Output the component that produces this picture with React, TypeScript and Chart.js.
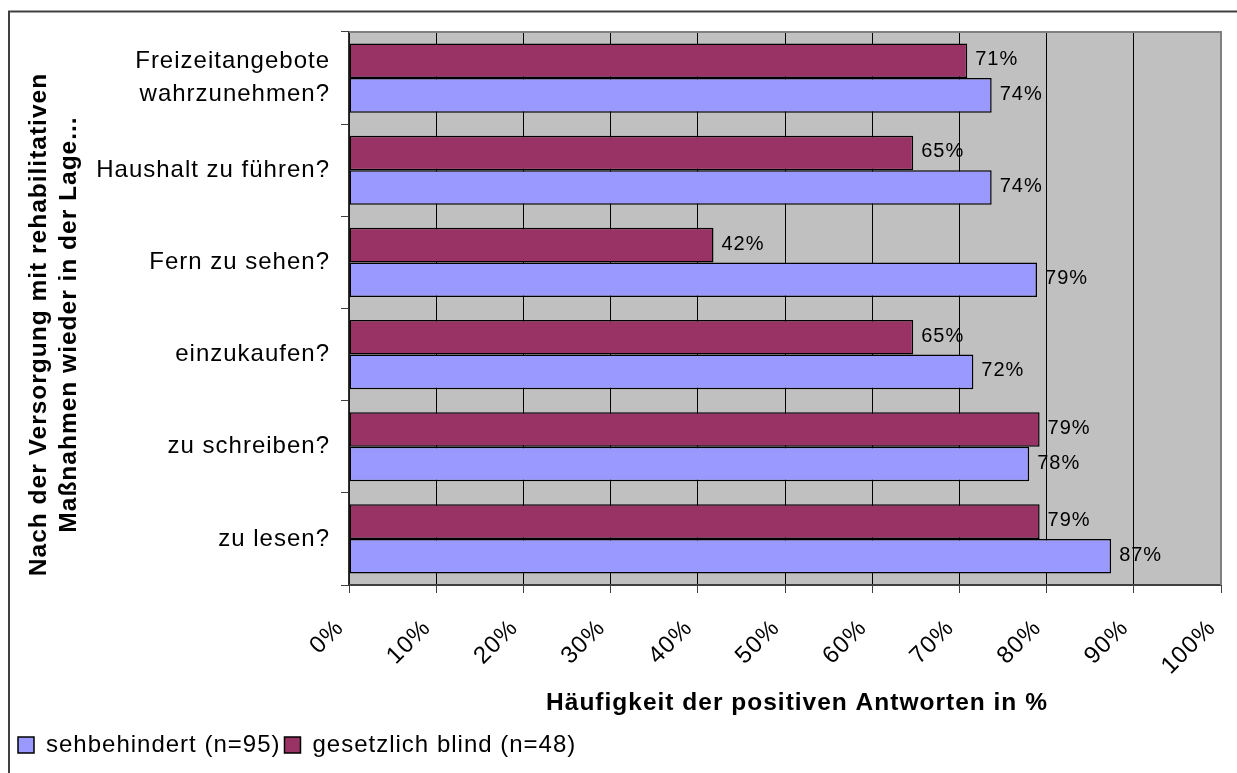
import React, { useEffect, useRef } from 'react';
import { Chart, registerables } from 'chart.js';

Chart.register(...registerables);

const FONT = "'Liberation Sans', Arial, sans-serif";

const categories: (string | string[])[] = [
  ['Freizeitangebote', 'wahrzunehmen?'],
  'Haushalt zu führen?',
  'Fern zu sehen?',
  'einzukaufen?',
  'zu schreiben?',
  'zu lesen?',
];
const blindValues = [70.9, 64.7, 41.8, 64.7, 79.2, 79.2];
const sightedValues = [73.7, 73.7, 78.9, 71.6, 78.0, 87.4];
const blindName = 'gesetzlich blind (n=48)';
const sightedName = 'sehbehindert (n=95)';
const xMin = 0;
const xMax = 100;
const xStep = 10;
const yTitleLines = ['Nach der Versorgung mit rehabilitativen', 'Maßnahmen wieder in der Lage...'];
const xTitle = 'Häufigkeit der positiven Antworten in %';

const BLIND_COLOR = '#993366';
const SIGHTED_COLOR = '#9999FF';

const spacingPlugin = {
  id: 'spacing',
  beforeUpdate(chart: any) {
    chart.ctx.letterSpacing = '1px';
  },
  beforeDraw(chart: any) {
    chart.ctx.letterSpacing = '1px';
  },
};

const backgroundPlugin = {
  id: 'bg',
  beforeDraw(chart: any) {
    const { ctx, chartArea: a, width, height } = chart;
    ctx.save();
    ctx.fillStyle = '#ffffff';
    ctx.fillRect(0, 0, width, height);
    ctx.fillStyle = '#C0C0C0';
    ctx.fillRect(a.left, a.top, a.right - a.left, a.bottom - a.top);
    // outer frame (top and left edges visible)
    ctx.strokeStyle = '#404040';
    ctx.lineWidth = 2;
    ctx.beginPath();
    ctx.moveTo(9, height);
    ctx.lineTo(9, 11.5);
    ctx.lineTo(width, 11.5);
    ctx.stroke();
    ctx.restore();
  },
};

const overlayPlugin = {
  id: 'overlay',
  afterDatasetsDraw(chart: any) {
    const { ctx, chartArea: a } = chart;
    ctx.save();
    ctx.strokeStyle = '#808080';
    ctx.lineWidth = 2;
    ctx.beginPath();
    ctx.moveTo(a.left, a.top);
    ctx.lineTo(a.right, a.top);
    ctx.lineTo(a.right, a.bottom);
    ctx.stroke();

    ctx.letterSpacing = '1px';
    ctx.fillStyle = '#000';
    ctx.font = `20px ${FONT}`;
    ctx.textAlign = 'left';
    ctx.textBaseline = 'middle';
    chart.data.datasets.forEach((ds: any, di: number) => {
      const meta = chart.getDatasetMeta(di);
      meta.data.forEach((el: any, i: number) => {
        const v = ds.data[i];
        ctx.fillText(Math.round(v) + '%', el.x + 8, el.y - 1);
      });
    });
    ctx.restore();
  },
  afterDraw(chart: any) {
    const { ctx, chartArea: a } = chart;
    const ys = chart.scales.y;
    const xs = chart.scales.x;
    ctx.save();
    ctx.letterSpacing = '1px';
    ctx.fillStyle = '#000';
    ctx.font = `bold 24.5px ${FONT}`;
    ctx.textAlign = 'center';
    ctx.textBaseline = 'middle';
    const cy = (a.top + a.bottom) / 2 + 16;
    yTitleLines.forEach((line, i) => {
      ctx.save();
      ctx.translate(ys.left + 25 + i * 30, cy);
      ctx.rotate(-Math.PI / 2);
      ctx.fillText(line, 0, 0);
      ctx.restore();
    });
    ctx.fillText(xTitle, (a.left + a.right) / 2 + 12, xs.bottom - 26);
    ctx.restore();
  },
};

export default function App() {
  const canvasRef = useRef<HTMLCanvasElement | null>(null);

  useEffect(() => {
    const canvas = canvasRef.current;
    if (!canvas) return;
    const chart = new Chart(canvas, {
      type: 'bar',
      data: {
        labels: categories,
        datasets: [
          {
            label: blindName,
            data: blindValues,
            backgroundColor: BLIND_COLOR,
            borderColor: '#000',
            borderWidth: 1.5,
            borderSkipped: false,
            categoryPercentage: 0.75,
            barPercentage: 1,
          },
          {
            label: sightedName,
            data: sightedValues,
            backgroundColor: SIGHTED_COLOR,
            borderColor: '#000',
            borderWidth: 1.5,
            borderSkipped: false,
            categoryPercentage: 0.75,
            barPercentage: 1,
          },
        ],
      },
      options: {
        indexAxis: 'y',
        responsive: false,
        animation: false,
        events: [],
        layout: {
          autoPadding: false,
          padding: { left: 14, right: 16, top: 32, bottom: 6 },
        },
        plugins: {
          tooltip: { enabled: false },
          title: { display: false },
          legend: {
            display: true,
            position: 'bottom',
            align: 'start',
            labels: {
              boxWidth: 16,
              boxHeight: 16,
              padding: 4,
              color: '#000',
              font: { family: FONT, size: 24 },
              sort: (a: any, b: any) => b.datasetIndex - a.datasetIndex,
            },
          },
        },
        scales: {
          x: {
            type: 'linear',
            min: xMin,
            max: xMax,
            afterFit: (scale: any) => {
              scale.height = 144;
              scale.paddingLeft = 0;
              scale.paddingRight = 0;
            },
            ticks: {
              stepSize: xStep,
              autoSkip: false,
              minRotation: 45,
              maxRotation: 45,
              padding: 21,
              labelOffset: -9,
              color: '#000',
              font: { family: FONT, size: 24 },
              callback: (v: any) => v + '%',
            },
            grid: {
              display: true,
              drawOnChartArea: true,
              drawTicks: true,
              tickLength: 8,
              color: '#000',
              tickColor: '#404040',
              lineWidth: 1,
            },
            border: { display: true, color: '#404040', width: 2 },
            title: { display: false },
          },
          y: {
            type: 'category',
            offset: true,
            afterFit: (scale: any) => {
              scale.width = 335;
              scale.paddingTop = 0;
              scale.paddingBottom = 0;
            },
            ticks: {
              padding: 11,
              color: '#000',
              autoSkip: false,
              font: { family: FONT, size: 24, lineHeight: 1.375 },
            },
            grid: {
              display: true,
              offset: true,
              drawOnChartArea: false,
              drawTicks: true,
              tickLength: 8,
              color: '#404040',
              tickColor: '#404040',
            },
            border: { display: true, color: '#333', width: 1.5 },
            title: { display: false },
          },
        },
      } as any,
      plugins: [spacingPlugin, backgroundPlugin, overlayPlugin],
    });
    return () => chart.destroy();
  }, []);

  return (
    <div style={{ position: 'fixed', left: 0, top: 0, width: 1237, height: 773, background: '#fff' }}>
      <canvas ref={canvasRef} width={1237} height={773} style={{ display: 'block' }} />
    </div>
  );
}
